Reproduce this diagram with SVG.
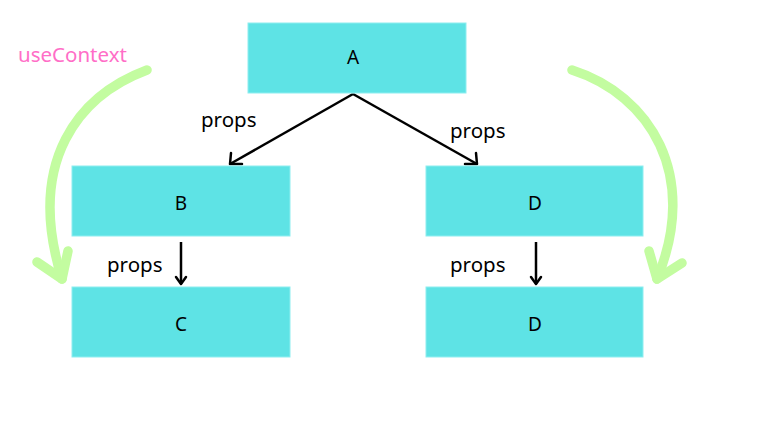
<svg xmlns="http://www.w3.org/2000/svg" width="760" height="428" viewBox="0 0 760 428">
<style>
.box{fill:#5ee3e5;stroke:#8eeef0;stroke-width:1}
.lbl{font-family:"Noto Sans",sans-serif;font-size:19px;fill:#000;text-anchor:middle;dominant-baseline:central}
.pr{font-family:"Noto Sans",sans-serif;font-size:20.5px;fill:#000}
.edge{fill:none;stroke:#000;stroke-width:2.5}
.head{fill:none;stroke:#000;stroke-width:2.5;stroke-linecap:round;stroke-linejoin:round}
.ctx{fill:none;stroke:#c3fca0;stroke-width:9.5;stroke-linecap:round;stroke-linejoin:round}
</style>
<rect width="760" height="428" fill="#fff"/>
<g id="context">
<text x="18" y="62" font-family="Noto Sans, sans-serif" font-size="20.5" fill="#ff6ec7">useContext</text>
<path class="ctx" d="M147,70 C80,95 25,160 62,279"/>
<path class="ctx" d="M37,262 L62,279 L68,251"/>
<path class="ctx" d="M572,70 C650,95 700,175 657,279"/>
<path class="ctx" d="M649,251 L657,279 L682,263"/>
</g>
<g id="connectors">
<line class="edge" x1="353" y1="94" x2="230" y2="164"/>
<path class="head" d="M231,153 L230,164 L242,164"/>
<line class="edge" x1="353" y1="94" x2="477" y2="164"/>
<path class="head" d="M465,164 L477,164 L476,153"/>
<line class="edge" x1="181" y1="242" x2="181" y2="284"/>
<path class="head" d="M176,277 L181,284 L186,277"/>
<line class="edge" x1="536" y1="242" x2="536" y2="284"/>
<path class="head" d="M531,277 L536,284 L541,277"/>
<text class="pr" x="201" y="127">props</text>
<text class="pr" x="450" y="138">props</text>
<text class="pr" x="107" y="272">props</text>
<text class="pr" x="450" y="272">props</text>
</g>
<g id="A"><rect class="box" x="248" y="23" width="218" height="70"/><text class="lbl" x="353" y="57">A</text></g>
<g id="B"><rect class="box" x="72" y="166" width="218" height="70"/><text class="lbl" x="181" y="203">B</text></g>
<g id="D"><rect class="box" x="426" y="166" width="217" height="70"/><text class="lbl" x="535" y="203">D</text></g>
<g id="C"><rect class="box" x="72" y="287" width="218" height="70"/><text class="lbl" x="181" y="324">C</text></g>
<g id="D2"><rect class="box" x="426" y="287" width="217" height="70"/><text class="lbl" x="535" y="324">D</text></g>
</svg>
